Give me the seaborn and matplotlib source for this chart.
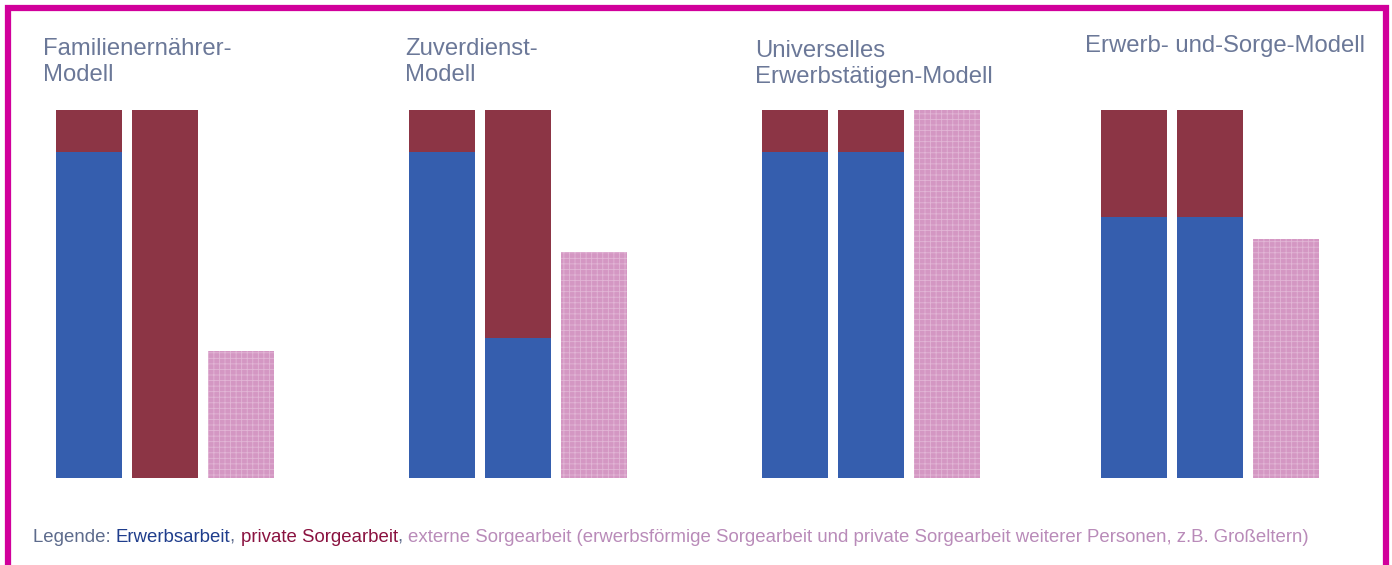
import matplotlib
matplotlib.use("Agg")
import matplotlib.pyplot as plt
import matplotlib.patches as mpatches
import seaborn as sns
import pandas as pd

sns.set_theme(style="white")
plt.rcParams['font.family'] = ['Liberation Sans', 'DejaVu Sans']
plt.rcParams['hatch.linewidth'] = 0.6

# ---- data ----
models = ["Familienernährer-\nModell", "Zuverdienst-\nModell",
          "Universelles\nErwerbstätigen-Modell", "Erwerb- und-Sorge-Modell"]
bars = ["Person 1", "Person 2", "Extern"]
erwerbsarbeit = [[88.5, 0], [88.5, 38], [88.5, 88.5], [71, 71]]
private_sorge = [[11.5, 100], [11.5, 62], [11.5, 11.5], [29, 29]]
externe_sorge = [34.5, 61.5, 100, 65]

legend_parts = [("Legende: ", "#5d6b8c"), ("Erwerbsarbeit", "#1f3d8c"), (", ", "#5d6b8c"),
                ("private Sorgearbeit", "#8a1240"), (", ", "#5d6b8c"),
                ("externe Sorgearbeit (erwerbsförmige Sorgearbeit und private Sorgearbeit weiterer Personen, z.B. Großeltern)", "#b98bb9")]

C_BLUE = "#355eae"
C_RED = "#8c3545"
C_PINK = "#d497c3"

W, H = 1392, 565
fig = plt.figure(figsize=(W / 100, H / 100), dpi=100)

lefts_px = [56, 409, 762, 1101]
title_px = [(43, 38), (405, 38), (755, 40), (1085, 35)]
axw = 218
bottom_px, top_px = 478, 110

for i, m in enumerate(models):
    ax = fig.add_axes([lefts_px[i] / W, 1 - bottom_px / H, axw / W, (bottom_px - top_px) / H])
    totals = [erwerbsarbeit[i][0] + private_sorge[i][0], erwerbsarbeit[i][1] + private_sorge[i][1], 0]
    df_tot = pd.DataFrame({"bar": bars, "v": totals})
    df_blue = pd.DataFrame({"bar": bars, "v": erwerbsarbeit[i] + [0]})
    df_ext = pd.DataFrame({"bar": bars, "v": [0, 0, externe_sorge[i]]})
    sns.barplot(data=df_tot, x="bar", y="v", color=C_RED, saturation=1, width=0.87, ax=ax, linewidth=0, order=bars)
    sns.barplot(data=df_blue, x="bar", y="v", color=C_BLUE, saturation=1, width=0.87, ax=ax, linewidth=0, order=bars)
    sns.barplot(data=df_ext, x="bar", y="v", color=C_PINK, saturation=1, width=0.87, ax=ax, order=bars,
                hatch="+++", edgecolor="#e2b6d6", linewidth=0)
    ax.set_xlim(-0.435, 2.435)
    ax.set_ylim(0, 100)
    ax.axis("off")
    tx, ty = title_px[i]
    fig.text(tx / W, 1 - ty / H, m, ha="left", va="top", fontsize=17.2, color="#6b7898", linespacing=1.25)

# legend line built from coloured pieces
fig.canvas.draw()
renderer = fig.canvas.get_renderer()
x = 33
for txt, col in legend_parts:
    t = fig.text(x / W, 1 - 537 / H, txt, ha="left", va="center", fontsize=13.4, color=col)
    bb = t.get_window_extent(renderer=renderer)
    x += bb.width

# magenta frame
frame = mpatches.Rectangle((8 / W, -0.05), (1386 - 8) / W, 1.05 - 8 / H, transform=fig.transFigure,
                           fill=False, edgecolor="#d1009b", linewidth=4.5)
fig.patches.append(frame)

fig.savefig("out.png", dpi=100)
